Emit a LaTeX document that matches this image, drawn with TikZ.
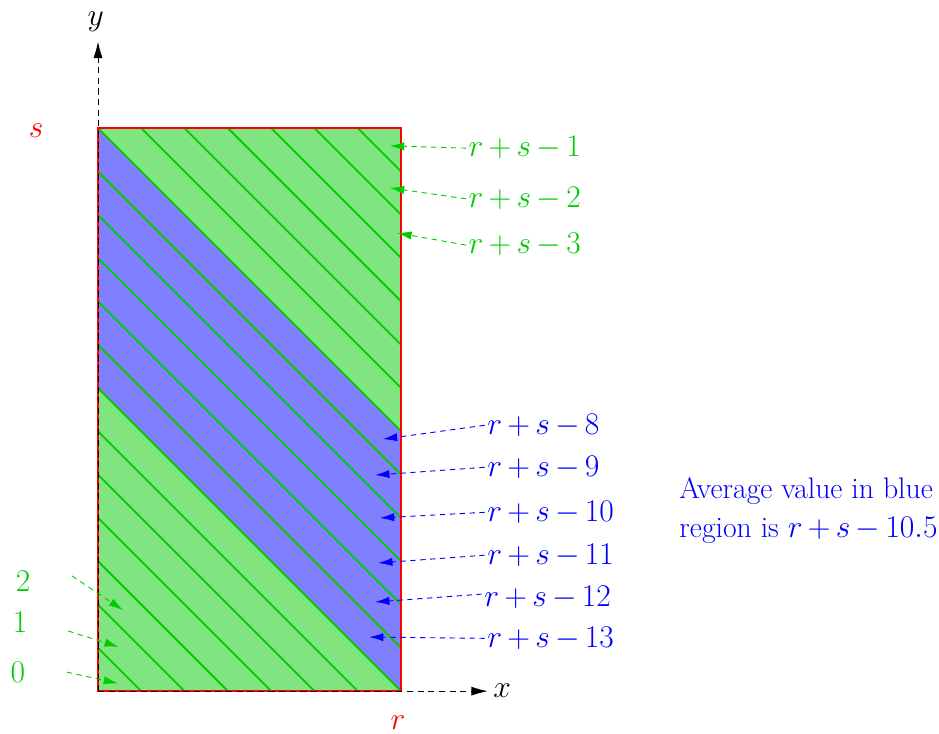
\documentclass[tikz,border=0pt]{standalone}
\usetikzlibrary{arrows.meta}
\definecolor{mygreen}{RGB}{0,204,0}
\newcommand{\lblfont}{\fontsize{19.5}{23}\selectfont\medmuskip=3mu\relax}
\newcommand{\avgfont}{\fontsize{19.5}{25.6}\selectfont\medmuskip=3mu\relax}
\begin{document}
\begin{tikzpicture}[x=1cm,y=1cm,
  lbl/.style={font=\lblfont, inner sep=1.5pt},
  glbl/.style={lbl, text=mygreen},
  blbl/.style={lbl, text=blue},
  garrow/.style={draw=mygreen, dashed, dash pattern=on 3.5pt off 3pt, line width=0.6pt, -{Latex[length=3.3mm,width=1.9mm]}},
  barrow/.style={draw=blue, dashed, dash pattern=on 3.5pt off 3pt, line width=0.6pt, -{Latex[length=3.3mm,width=1.9mm]}},
  axis/.style={draw=black, dashed, dash pattern=on 4pt off 3pt, line width=0.6pt, -{Latex[length=3.8mm,width=2.1mm]}},
  diag/.style={draw=mygreen, line width=1.2pt}]
\useasboundingbox (-2.263,-0.97) rectangle (19.42,15.96);
% fills
\fill[mygreen!50] (0,0) rectangle (7,13);
\fill[blue!50] (0,7) -- (0,13) -- (7,6) -- (7,0) -- cycle;
% diagonal lines
\begin{scope}
\clip (0,0) rectangle (7,13);
\foreach \k in {1,...,19} {
  \draw[diag] (0,\k) -- (\k,0);
}
\end{scope}
% rectangle
\draw[red, line width=1.3pt] (0,0) rectangle (7,13);
% axes
\coordinate (O) at (0,0);
\coordinate (ytip) at (0,15);
\coordinate (xtip) at (9,0);
\draw[axis] (O) -- (ytip);
\draw[axis] (O) -- (xtip);
\node[lbl] (ylab) at (-0.05,15.46) {$y$};
\node[lbl, anchor=west, inner sep=0pt] (xlab) at (9.12,0) {$x$};
\node[lbl, text=red] (slab) at (-1.43,12.95) {$s$};
\node[lbl, text=red] (rlab) at (6.93,-0.72) {$r$};
% green labels
\node[glbl, anchor=west] (g1) at (8.5,12.54) {$r+s-1$};
\node[glbl, anchor=west] (g2) at (8.5,11.37) {$r+s-2$};
\node[glbl, anchor=west] (g3) at (8.5,10.30) {$r+s-3$};
\coordinate (tg1) at (6.74,12.59);
\coordinate (tg2) at (6.74,11.62);
\coordinate (tg3) at (6.91,10.58);
\draw[garrow] (g1.west) -- (tg1);
\draw[garrow] (g2.west) -- (tg2);
\draw[garrow] (g3.west) -- (tg3);
% blue labels
\node[blbl, anchor=west] (b8) at (8.93,6.14) {$r+s-8$};
\node[blbl, anchor=west] (b9) at (8.93,5.17) {$r+s-9$};
\node[blbl, anchor=west] (b10) at (8.93,4.13) {$r+s-10$};
\node[blbl, anchor=west] (b11) at (8.93,3.14) {$r+s-11$};
\node[blbl, anchor=west] (b12) at (8.86,2.17) {$r+s-12$};
\node[blbl, anchor=west] (b13) at (8.93,1.22) {$r+s-13$};
\coordinate (tb8) at (6.58,5.82);
\coordinate (tb9) at (6.40,4.99);
\coordinate (tb10) at (6.51,4.00);
\coordinate (tb11) at (6.47,2.96);
\coordinate (tb12) at (6.40,2.06);
\coordinate (tb13) at (6.26,1.25);
\draw[barrow] (b8.west) -- (tb8);
\draw[barrow] (b9.west) -- (tb9);
\draw[barrow] (b10.west) -- (tb10);
\draw[barrow] (b11.west) -- (tb11);
\draw[barrow] ([yshift=2pt]b12.west) -- (tb12);
\draw[barrow] (b13.west) -- (tb13);
% small green numbers
\node[glbl] (n2) at (-1.73,2.54) {$2$};
\node[glbl] (n1) at (-1.80,1.59) {$1$};
\node[glbl] (n0) at (-1.85,0.44) {$0$};
\coordinate (sn2) at (-0.6,2.66);
\coordinate (sn1) at (-0.69,1.39);
\coordinate (sn0) at (-0.72,0.44);
\coordinate (tn2) at (0.58,1.87);
\coordinate (tn1) at (0.48,1.02);
\coordinate (tn0) at (0.46,0.18);
\draw[garrow] (sn2) -- (tn2);
\draw[garrow] (sn1) -- (tn1);
\draw[garrow] (sn0) -- (tn0);
% average text
\node[anchor=west, align=left, text=blue, inner sep=0pt, font=\avgfont] (avg) at (13.42,4.18)
  {Average value in blue\\region is $r+s-10.5$};
\end{tikzpicture}
\end{document}
